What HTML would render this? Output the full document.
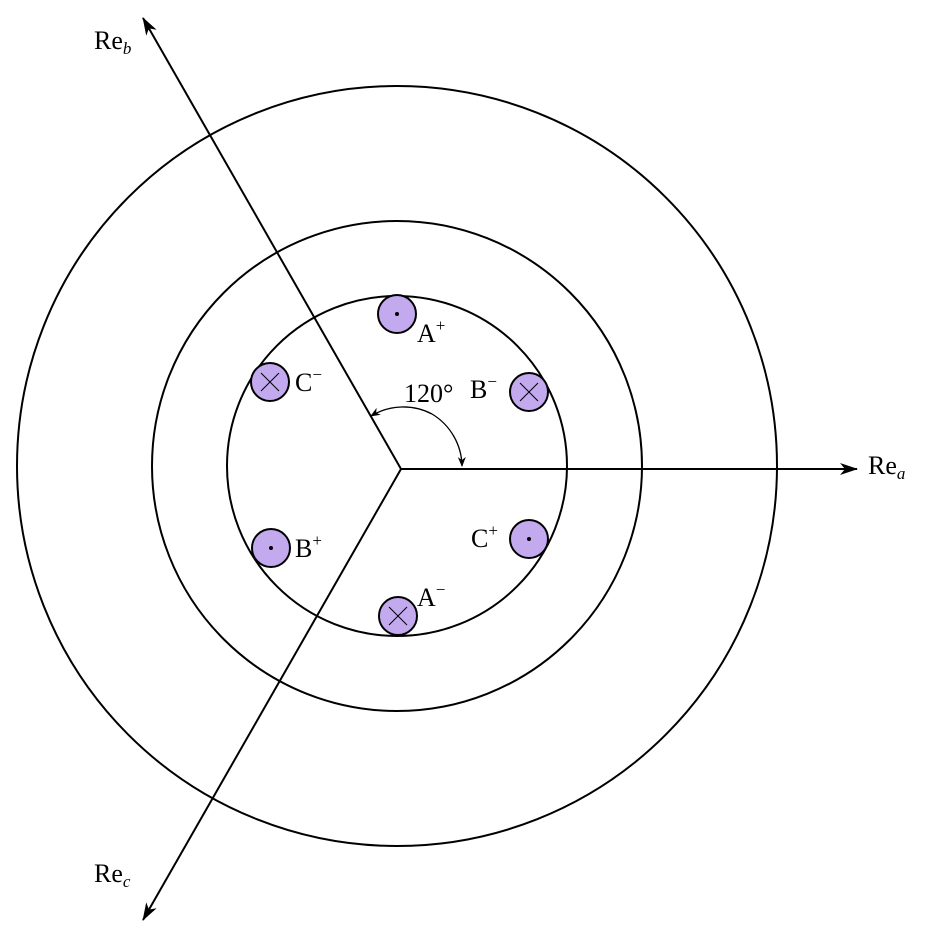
<!DOCTYPE html>
<html><head><meta charset="utf-8"><style>
html,body{margin:0;padding:0;background:#fff}
text{font-family:"Liberation Serif",serif;fill:#000}
</style></head><body>
<svg width="932" height="938" viewBox="0 0 932 938" xmlns="http://www.w3.org/2000/svg">
<defs>
<marker id="ar" viewBox="0 0 10 10" refX="9" refY="5" markerWidth="10" markerHeight="10" markerUnits="userSpaceOnUse" orient="auto">
<path d="M0,1 L10,5 L0,9 L3,5 Z" fill="#000"/>
</marker>
<marker id="big" viewBox="0 0 18 12" refX="17" refY="6" markerWidth="18" markerHeight="12" markerUnits="userSpaceOnUse" orient="auto">
<path d="M0,0 L18,6 L0,12 L5,6 Z" fill="#000"/>
</marker>
</defs>
<g fill="none" stroke="#000" stroke-width="2">
<circle cx="397" cy="466" r="380"/>
<circle cx="397" cy="466" r="245"/>
<circle cx="397" cy="466" r="170"/>
<line x1="401" y1="469" x2="857" y2="469" marker-end="url(#big)"/>
<line x1="401" y1="469" x2="143" y2="18" marker-end="url(#big)"/>
<line x1="401" y1="469" x2="143" y2="920" marker-end="url(#big)"/>
</g>
<path d="M432,414 A62,62 0 0 1 462,466" fill="none" stroke="#000" stroke-width="1.3" marker-end="url(#ar)"/>
<path d="M432,414 A62,62 0 0 0 371,416" fill="none" stroke="#000" stroke-width="1.3" marker-end="url(#ar)"/>
<g stroke="#000" stroke-width="2" fill="#c3aaee">
<circle cx="397" cy="314" r="19"/>
<circle cx="529" cy="392" r="19"/>
<circle cx="270" cy="382" r="19"/>
<circle cx="271" cy="548" r="19"/>
<circle cx="529" cy="539" r="19"/>
<circle cx="398" cy="616" r="19"/>
</g>
<g fill="#000">
<circle cx="397" cy="314" r="2"/>
<circle cx="271" cy="548" r="2"/>
<circle cx="529" cy="539" r="2"/>
</g>
<g stroke="#000" stroke-width="1">
<path d="M520,383 L538,401 M538,383 L520,401"/>
<path d="M261,373 L279,391 M279,373 L261,391"/>
<path d="M389,607 L407,625 M407,607 L389,625"/>
</g>
<g font-size="26">
<text x="417" y="342">A<tspan font-size="17" dy="-11">+</tspan></text>
<text x="470" y="398">B<tspan font-size="17" dy="-11">−</tspan></text>
<text x="295" y="391">C<tspan font-size="17" dy="-11">−</tspan></text>
<text x="295" y="557">B<tspan font-size="17" dy="-11">+</tspan></text>
<text x="471" y="547">C<tspan font-size="17" dy="-11">+</tspan></text>
<text x="417" y="606">A<tspan font-size="17" dy="-11">−</tspan></text>
<text x="404" y="402">120°</text>
<text x="868" y="474">Re<tspan font-size="17" font-style="italic" dy="5">a</tspan></text>
<text x="94" y="49">Re<tspan font-size="17" font-style="italic" dy="5">b</tspan></text>
<text x="94" y="882">Re<tspan font-size="17" font-style="italic" dy="5">c</tspan></text>
</g>
</svg>
</body></html>
